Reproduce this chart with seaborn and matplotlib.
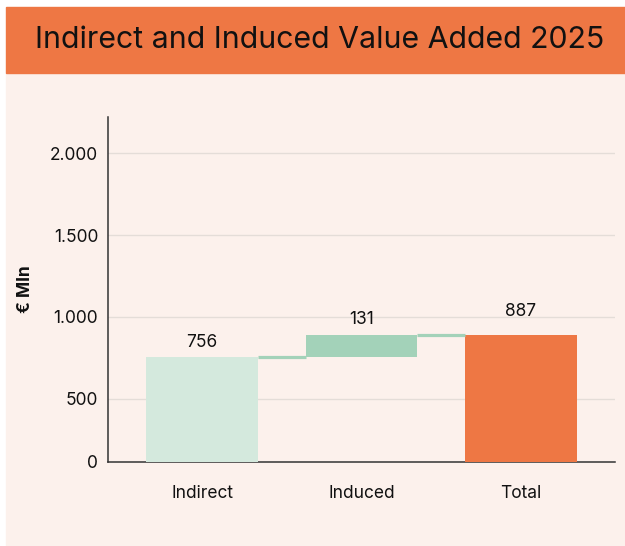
import numpy as np
import pandas as pd
import matplotlib
matplotlib.use("Agg")
import matplotlib.pyplot as plt
from matplotlib.patches import Rectangle
import seaborn as sns

# data
categories = ["Indirect", "Induced", "Total"]
changes = [756, 131, 887]
bottoms = [0, 756, 0]
value_labels = ["756", "131", "887"]
y_ticks = [500, 1000, 1500, 2000]
y_tick_labels = ["500", "1.000", "1.500", "2.000"]
y_floor = 113      # axis starts here in the reference, labelled "0"
y_top = 2221

bar_colors = ["#D4E9DD", "#A3D2B9", "#EE7744"]
connector_color = "#A3D2B9"
label_pads = [4, 5, 11]   # points above each bar top

sns.set_theme(style="white")
plt.rcParams["font.family"] = ["Inter", "DejaVu Sans"]

fig = plt.figure(figsize=(6.25, 5.46), dpi=100)
fig.patch.set_facecolor("white")

W, H = 625, 546
# panel background and title banner
fig.patches.append(Rectangle((6 / W, 0), 1 - 6 / W, 1 - 72.5 / H,
                             transform=fig.transFigure, color="#FCF1EC", zorder=-10))
fig.patches.append(Rectangle((6 / W, 1 - 72.5 / H), 1 - 6 / W, 65.5 / H,
                             transform=fig.transFigure, color="#EE7744", zorder=-10))
fig.text(0.512, 1 - 40 / H, "Indirect and Induced Value Added 2025",
         ha="center", va="center", fontsize=21.8, color="#111111")

ax = fig.add_axes([108 / W, 1 - 462 / H, (615 - 108) / W, (462 - 117) / H])
ax.set_facecolor("none")

df = pd.DataFrame({"category": categories, "change": changes, "bottom": bottoms})
sns.barplot(data=df, x="category", y="change", order=categories,
            bottom=df["bottom"].values, width=0.7, color=bar_colors[0],
            linewidth=0, ax=ax, zorder=3)
for patch, c in zip(ax.patches, bar_colors):
    patch.set_facecolor(c)

# connectors between bars
tops = [b + c for b, c in zip(bottoms, changes)]
for i in range(len(categories) - 1):
    ax.plot([i + 0.35, i + 1 - 0.35], [tops[i], tops[i]],
            color=connector_color, lw=2.3, solid_capstyle="butt", zorder=3)

# value labels
for i, (t, lab) in enumerate(zip(tops, value_labels)):
    ax.annotate(lab, (i, t), xytext=(0, label_pads[i]), textcoords="offset points",
                ha="center", va="bottom", fontsize=12.5, color="#111111")

ax.set_xlim(-0.59, 2.59)
ax.set_ylim(y_floor, y_top)
ax.set_yticks([y_floor] + y_ticks, labels=["0"] + y_tick_labels)
ax.tick_params(axis="y", length=0, pad=7, labelsize=12.5, labelcolor="#111111")
ax.tick_params(axis="x", length=0, pad=16.5, labelsize=12.5, labelcolor="#111111")
ax.set_xlabel("")
ax.set_ylabel("€ Mln", fontsize=12.5, fontweight="bold", color="#111111")
ax.yaxis.set_label_coords(-0.146, 0.5)

for y in y_ticks:
    ax.axhline(y, color="#E4DDD8", lw=1, zorder=1)

sns.despine(ax=ax)
for s in ["left", "bottom"]:
    ax.spines[s].set_color("#333333")
    ax.spines[s].set_linewidth(1.1)

fig.savefig("out.png", dpi=100)
